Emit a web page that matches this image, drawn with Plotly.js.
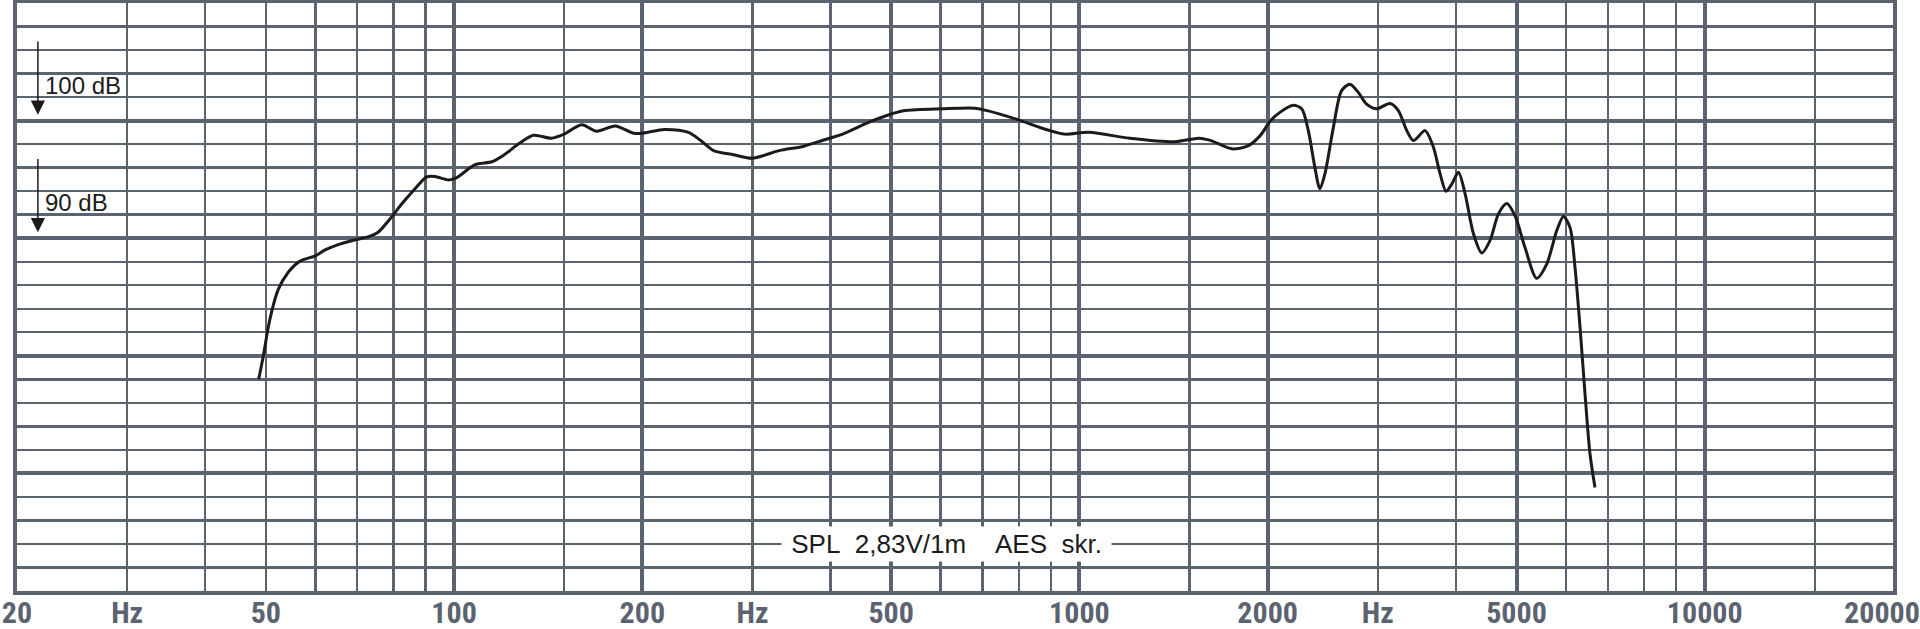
<!DOCTYPE html>
<html>
<head>
<meta charset="utf-8">
<script src="https://cdn.plot.ly/plotly-3.0.1.min.js"></script>
<style>
  body { margin: 0; background: #fff; }
  #graph { width: 1920px; height: 629px; }
</style>
</head>
<body>
<div id="graph"></div>
<script>
// frequency response (Hz, dB SPL)
var freq = [48.7, 49.5, 50.7, 52.3, 54.3, 56.7, 60, 62.2, 65.6, 69.3, 73.2, 75.6, 78.6, 82.9, 86.6,
    90.3, 93.2, 98, 101, 108, 115, 120, 127, 134, 143, 150, 160, 169, 181, 195,
    217, 237, 248, 260, 280, 300, 331, 361, 390, 420, 460, 496, 527, 603, 680, 712, 790, 890, 947,
    1036, 1204, 1420, 1554, 1624, 1752, 1860, 1944, 2022, 2092, 2198, 2267, 2323, 2380, 2424, 2470,
    2547, 2626, 2708, 2792, 2879, 2988, 3138, 3236, 3338, 3420, 3571, 3681, 3773, 3857, 3940, 4037,
    4137, 4266, 4398, 4535, 4676, 4824, 4974, 5159, 5386, 5588, 5799, 5943, 6090, 6202, 6317, 6435,
    6554, 6675];
var spl = [78.0, 79.9, 83.0, 85.6, 87.1, 88.05, 88.5, 89.0, 89.5, 89.85, 90.15, 90.5, 91.5, 93.05, 94.2,
    95.2, 95.25, 94.95, 95.15, 96.25, 96.5, 97.05, 98.05, 98.75, 98.5, 98.85, 99.65, 99.1, 99.55, 98.9,
    99.25, 99.0, 98.3, 97.45, 97.1, 96.8, 97.45, 97.8, 98.35, 98.9, 99.85, 100.5, 100.85, 101.0, 101.05, 100.85, 100.15, 99.2, 98.85,
    99.0, 98.5, 98.2, 98.5, 98.3, 97.6, 97.85, 98.7, 100.0, 100.7, 101.3, 101.0, 99.15, 96.0, 94.2, 95.5,
    99.4, 102.55, 103.1, 102.4, 101.4, 101.0, 101.45, 100.85, 99.15, 98.3, 99.15, 97.75, 95.5, 94.0, 94.6, 95.6,
    93.8, 90.4, 88.75, 89.8, 92.05, 92.95, 91.9, 89.2, 86.6, 87.8, 90.65, 91.85, 90.9, 87.5, 82.45, 76.75,
    71.65, 68.8];

// frequency axis labels
var labelVals = [20, 30, 50, 100, 200, 300, 500, 1000, 2000, 3000, 5000, 10000, 20000];
var labelText = ["20", "Hz", "50", "100", "200", "Hz", "500", "1000", "2000", "Hz", "5000", "10000", "20000"];
// heavy and light vertical grid lines
var majorFreq = [100, 200, 500, 1000, 2000, 5000, 10000];
var minorFreq = [30, 40, 50, 60, 70, 80, 90, 150, 300, 400, 600, 700, 800, 900, 1500,
    3000, 4000, 6000, 7000, 8000, 9000, 15000];
var dbRange = [60, 110];
var dbMarks = [100, 90];
var noteText = "SPL  2,83V/1m    AES  skr.";

var gridColor = "#5b6371";
var labelFont = "Liberation Sans Narrow, Roboto Condensed, DejaVu Sans Condensed, sans-serif";
var textFont = "Liberation Sans, Arial, sans-serif";

function lg(v) {
    return Math.log10(v);
}
function nbsp(s) {
    return s.replace(/ /g, "\u00a0");
}

var xRange = [lg(20), lg(20000)];
var last = labelVals.length - 1;

var trace = {
    x: freq,
    y: spl,
    type: 'scatter',
    mode: 'lines',
    line: { color: '#1b1b1b', width: 3, shape: 'spline', smoothing: 0.8 },
    hoverinfo: 'skip'
};

// dB markers: arrow pointing down onto the level line, label beside it
var annotations = [];
for (var i = 0; i < dbMarks.length; i++) {
    annotations.push({
        x: lg(21.6), y: dbMarks[i] + 0.5,
        xref: 'x', yref: 'y',
        ax: lg(21.6), ay: dbMarks[i] + 6.9,
        axref: 'x', ayref: 'y',
        text: "\u00a0", font: { size: 1 },
        showarrow: true, arrowhead: 2, arrowsize: 1.9, arrowwidth: 1.5,
        arrowcolor: '#1b1b1b', standoff: 0, startstandoff: 0
    });
    annotations.push({
        x: lg(22.0), y: dbMarks[i] + 3,
        xref: 'x', yref: 'y',
        xanchor: 'left', yanchor: 'middle',
        text: dbMarks[i] + " dB",
        showarrow: false,
        font: { family: textFont, size: 24, color: '#1b1b1b' }
    });
}
annotations.push({
    x: lg(612), y: 64,
    xref: 'x', yref: 'y',
    xanchor: 'center', yanchor: 'middle',
    text: nbsp(" " + noteText + " "),
    showarrow: false,
    bgcolor: '#ffffff', borderpad: 2,
    font: { family: textFont, size: 26, color: '#1b1b1b' }
});

var tickFont = { family: labelFont, size: 30, color: gridColor, weight: 'bold' };

var layout = {
    width: 1920,
    height: 629,
    margin: { l: 17, r: 27, t: 3, b: 38, pad: 0 },
    paper_bgcolor: '#ffffff',
    plot_bgcolor: '#ffffff',
    showlegend: false,
    hovermode: false,
    xaxis: {
        type: 'log',
        range: xRange,
        tickmode: 'array',
        tickvals: labelVals.slice(0, last),
        ticktext: labelText.slice(0, last),
        ticks: '',
        showgrid: false,
        zeroline: false,
        showline: true, mirror: true, linecolor: gridColor, linewidth: 4,
        tickfont: tickFont,
        ticklabelstandoff: -8,
        ticklabeloverflow: 'allow'
    },
    // grid only
    xaxis2: {
        type: 'log',
        overlaying: 'x',
        range: xRange,
        tickmode: 'array',
        tickvals: majorFreq,
        showticklabels: false,
        ticks: '',
        showgrid: true, gridcolor: gridColor, gridwidth: 4,
        minor: { tickmode: 'array', tickvals: minorFreq, showgrid: true, gridcolor: gridColor, gridwidth: 2.4, ticks: '' },
        zeroline: false
    },
    // the 20000 label at the page edge, nudged left so it stays on the page
    xaxis3: {
        type: 'log',
        overlaying: 'x',
        range: xRange,
        tickmode: 'array',
        tickvals: [labelVals[last]],
        ticktext: [labelText[last]],
        ticks: '',
        showgrid: false,
        zeroline: false,
        showline: true, linecolor: gridColor, linewidth: 4,
        tickfont: tickFont,
        ticklabelstandoff: -8,
        ticklabelshift: -11,
        ticklabeloverflow: 'allow'
    },
    yaxis: {
        range: dbRange,
        tickmode: 'linear', tick0: 0, dtick: 10,
        showticklabels: false,
        ticks: '',
        showgrid: true, gridcolor: gridColor, gridwidth: 4,
        minor: { tickmode: 'linear', tick0: 0, dtick: 2, showgrid: true, gridcolor: gridColor, gridwidth: 2.4, ticks: '' },
        zeroline: false,
        showline: true, mirror: true, linecolor: gridColor, linewidth: 4
    },
    annotations: annotations
};

// empty traces so the overlaid axes get drawn
var gridTrace = { x: [], y: [], xaxis: 'x2', yaxis: 'y', type: 'scatter', hoverinfo: 'skip' };
var edgeTrace = { x: [], y: [], xaxis: 'x3', yaxis: 'y', type: 'scatter', hoverinfo: 'skip' };

Plotly.newPlot('graph', [gridTrace, edgeTrace, trace], layout, { staticPlot: true });
</script>
</body>
</html>
